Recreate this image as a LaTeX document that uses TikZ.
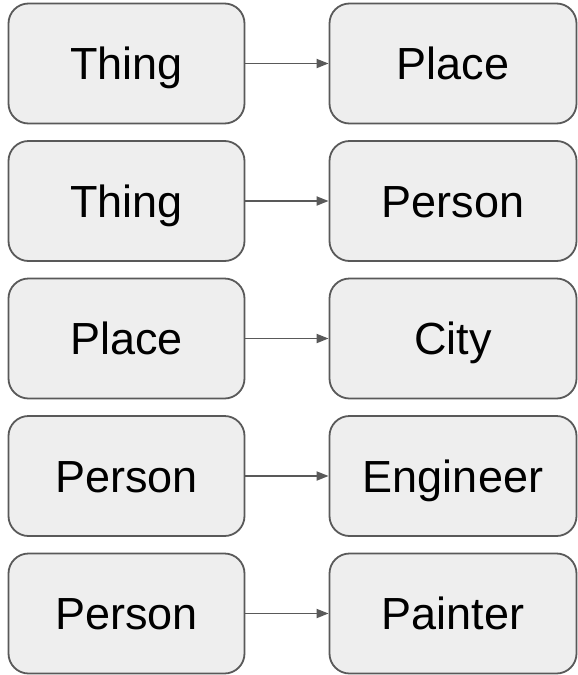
\documentclass[tikz,border=0pt]{standalone}
\usepackage{fontspec}
\setmainfont{Liberation Sans}
\usetikzlibrary{arrows.meta}
\definecolor{boxfill}{HTML}{EEEEEE}
\definecolor{edgegray}{HTML}{595959}

\begin{document}
\begin{tikzpicture}[x=1pt, y=-1pt, >={Triangle[length=12pt, width=9pt]},
    klass/.style={draw=edgegray, line width=1.8pt, fill=boxfill,
        rounded corners=20pt, minimum height=120pt, inner sep=0pt,
        text height=32pt, text depth=0pt, font=\fontsize{45}{50}\selectfont},
    superbox/.style={klass, minimum width=236pt},
    subbox/.style={klass, minimum width=247pt},
    link/.style={->, edgegray, line width=1.8pt}]

    \useasboundingbox (0,0) rectangle (578,675);

    % Parent classes
    \node[superbox] (thing1)  at (126.5, 63.5)  {Thing};
    \node[superbox] (thing2)  at (126.5, 201)   {Thing};
    \node[superbox] (place)   at (126.5, 338.5) {Place};
    \node[superbox] (person1) at (126.5, 476)   {Person};
    \node[superbox] (person2) at (126.5, 613.5) {Person};

    % Child classes
    \node[subbox] (placesub)    at (453, 63.5)  {Place};
    \node[subbox] (personsub)   at (453, 201)   {Person};
    \node[subbox] (city)        at (453, 338.5) {City};
    \node[subbox] (engineer)    at (453, 476)   {Engineer};
    \node[subbox] (painter)     at (453, 613.5) {Painter};

    % Subclass links
    \draw[link] (thing1) -- (placesub);
    \draw[link] (thing2) -- (personsub);
    \draw[link] (place) -- (city);
    \draw[link] (person1) -- (engineer);
    \draw[link] (person2) -- (painter);

\end{tikzpicture}
\end{document}
